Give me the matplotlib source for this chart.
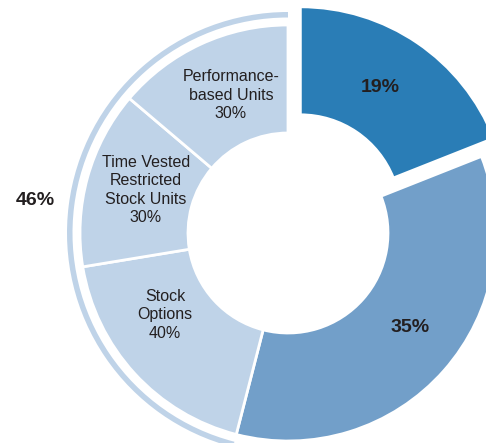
import matplotlib
matplotlib.use("Agg")
import matplotlib.pyplot as plt
from matplotlib.patches import Wedge

# overall split of the award mix
main_labels = ["19%", "35%", "46%"]
main_shares = [19, 35, 46]
# breakdown of the 46% portion
sub_labels = ["Stock\nOptions\n40%", "Time Vested\nRestricted\nStock Units\n30%",
              "Performance-\nbased Units\n30%"]
sub_shares = [40, 30, 30]

DARK, MID, LIGHT = "#2a7db6", "#729fc9", "#bfd3e8"
TXT = "#231f20"
plt.rcParams["font.family"] = ["Liberation Sans", "DejaVu Sans"]

W, H = 486, 443
CX, CY = 288, H - 233
R_OUT, R_IN = 208, 100

fig = plt.figure(figsize=(W / 100, H / 100), dpi=100)
ax = fig.add_axes([0, 0, 1, 1])

sizes = main_shares[:2] + [main_shares[2] * s / 100 for s in sub_shares]
colors = [DARK, MID, LIGHT, LIGHT, LIGHT]
explode = [22, 0, 0, 0, 0]
ax.pie(sizes, colors=colors, explode=explode, startangle=90, counterclock=False,
       center=(CX, CY), radius=R_OUT, normalize=True, frame=True,
       wedgeprops=dict(width=R_OUT - R_IN, edgecolor="white", linewidth=2))
ax.set_xlim(0, W)
ax.set_ylim(0, H)
ax.set_aspect("equal")
ax.axis("off")

# bracket arc around the 46% group
t2 = 90 + 360 * main_shares[2] / 100
ax.add_patch(Wedge((CX, CY), 221, 90, t2, width=5.5, facecolor=LIGHT, edgecolor="none"))

ax.text(380, H - 87, main_labels[0], ha="center", va="center", fontsize=14,
        fontweight="bold", color=TXT)
ax.text(410, H - 327, main_labels[1], ha="center", va="center", fontsize=14,
        fontweight="bold", color=TXT)
ax.text(35, H - 200, main_labels[2], ha="center", va="center", fontsize=14,
        fontweight="bold", color=TXT)

sub_pos = [(165, 315), (146, 190), (231, 95)]
for lab, (x, y) in zip(sub_labels, sub_pos):
    ax.text(x, H - y, lab, ha="center", va="center", fontsize=11.5, color=TXT,
            linespacing=1.28)

fig.savefig("out.png", dpi=100)
